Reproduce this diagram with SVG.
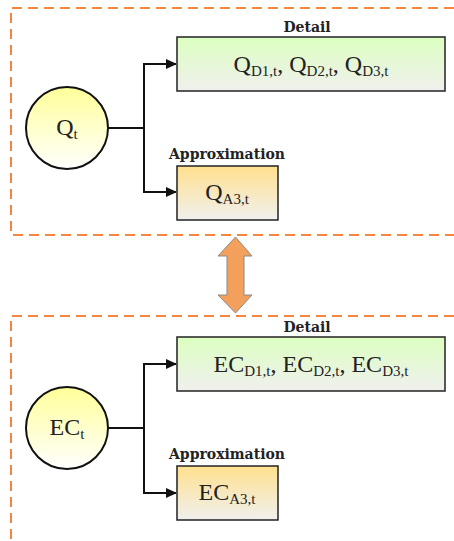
<svg xmlns="http://www.w3.org/2000/svg" width="454" height="541" viewBox="0 0 454 541">
<style>
.frame{fill:none;stroke:#F5853F;stroke-width:2;stroke-dasharray:10,6}
.box{stroke:#222;stroke-width:1.5}
.circ{stroke:#111;stroke-width:2;fill:url(#gc)}
.conn{fill:none;stroke:#111;stroke-width:2;marker-end:url(#ah)}
.lbl{font-family:"DejaVu Serif","Liberation Serif",serif;font-weight:bold;font-size:14px;fill:#222;text-anchor:middle}
.main{font-family:"Liberation Serif","DejaVu Serif",serif;font-size:24px;fill:#222;text-anchor:middle}
.sub{font-size:15px}
</style>
<defs>
<linearGradient id="gd" x1="0" y1="0" x2="0" y2="1"><stop offset="0" stop-color="#dcffc0"/><stop offset="1" stop-color="#f0f0ee"/></linearGradient>
<linearGradient id="ga" x1="0" y1="0" x2="0" y2="1"><stop offset="0" stop-color="#ffe08e"/><stop offset="1" stop-color="#f0f0ee"/></linearGradient>
<linearGradient id="gc" x1="0" y1="0" x2="0" y2="1"><stop offset="0" stop-color="#ffff99"/><stop offset="1" stop-color="#ffffff"/></linearGradient>
<marker id="ah" markerWidth="11" markerHeight="10" refX="10" refY="5" orient="auto" markerUnits="userSpaceOnUse"><path d="M0,0 L11,5 L0,10 Z" fill="#111"/></marker>
</defs>
<g id="frame-top"><path class="frame" d="M454,8 H11 V235 H454"/></g>
<g id="frame-bottom"><path class="frame" d="M454,316 H11 V541"/></g>
<g id="double-arrow"><path d="M235.5,237 L252,256 L244,256 L244,295 L252,295 L235.5,313 L218,295 L227,295 L227,256 L218,256 Z" fill="#F2A05C" stroke="#8a8a8a" stroke-width="1"/></g>
<g id="connectors">
<path class="conn" d="M108,128 H144 V64 H176"/>
<path class="conn" d="M144,128 V192 H176"/>
<path class="conn" d="M108,428 H144 V364 H176"/>
<path class="conn" d="M144,428 V493 H176"/>
</g>
<g id="q-circle"><circle class="circ" cx="67" cy="128" r="41"/><text class="main" x="67" y="135">Q<tspan class="sub" dy="4">t</tspan></text></g>
<g id="q-detail"><text class="lbl" x="307" y="32">Detail</text><rect class="box" x="177" y="37" width="268" height="54" fill="url(#gd)"/><text class="main" x="311" y="72">Q<tspan class="sub" dy="4">D1,t</tspan><tspan dy="-4">, Q</tspan><tspan class="sub" dy="4">D2,t</tspan><tspan dy="-4">, Q</tspan><tspan class="sub" dy="4">D3,t</tspan></text></g>
<g id="q-approx"><text class="lbl" x="227" y="159">Approximation</text><rect class="box" x="177" y="166" width="101" height="54" fill="url(#ga)"/><text class="main" x="227" y="200">Q<tspan class="sub" dy="4">A3,t</tspan></text></g>
<g id="ec-circle"><circle class="circ" cx="67" cy="428" r="41"/><text class="main" x="67" y="435">EC<tspan class="sub" dy="4">t</tspan></text></g>
<g id="ec-detail"><text class="lbl" x="307" y="332">Detail</text><rect class="box" x="177" y="337" width="268" height="54" fill="url(#gd)"/><text class="main" x="311" y="372">EC<tspan class="sub" dy="4">D1,t</tspan><tspan dy="-4">, EC</tspan><tspan class="sub" dy="4">D2,t</tspan><tspan dy="-4">, EC</tspan><tspan class="sub" dy="4">D3,t</tspan></text></g>
<g id="ec-approx"><text class="lbl" x="227" y="459">Approximation</text><rect class="box" x="177" y="466" width="101" height="54" fill="url(#ga)"/><text class="main" x="227" y="500">EC<tspan class="sub" dy="4">A3,t</tspan></text></g>
</svg>
